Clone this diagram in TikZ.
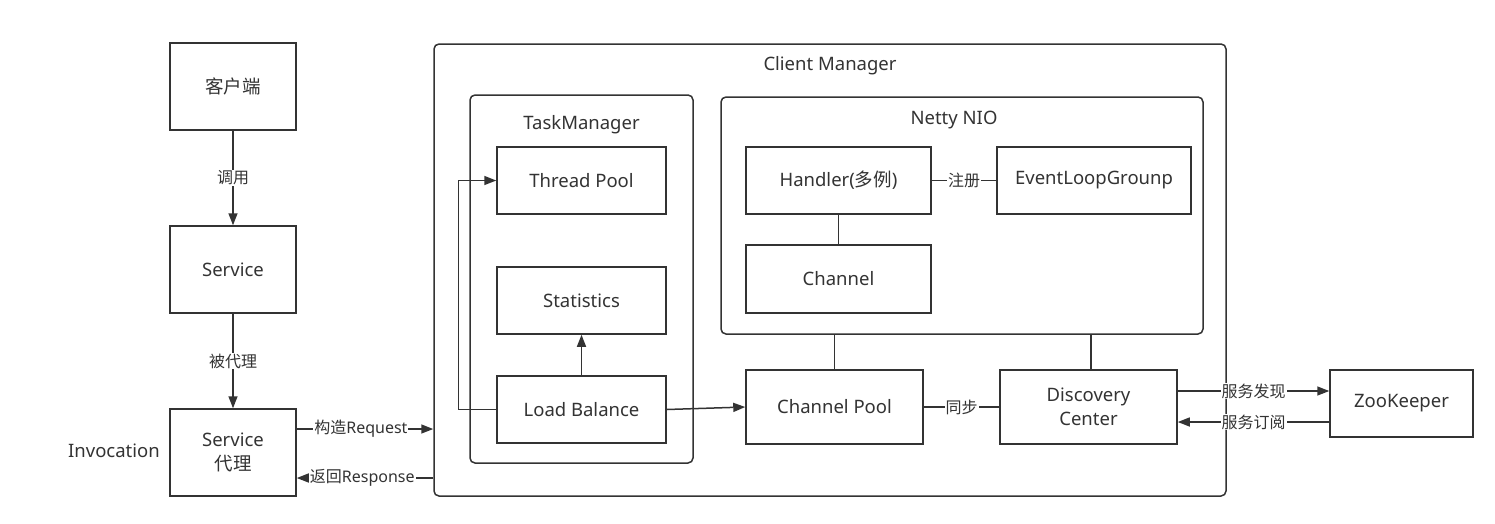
\documentclass[tikz,border=0pt]{standalone}
\usepackage{fontspec}
\setmainfont{Noto Sans}
\newfontfamily\cjk{Noto Sans CJK SC}
\usetikzlibrary{arrows.meta,calc}
\definecolor{ink}{HTML}{333333}
\tikzset{
  box/.style={draw=ink,line width=1.5pt,fill=white,inner sep=0pt,align=center,text=ink,font=\fontsize{18.5}{23.5}\selectfont},
  cont/.style={draw=ink,line width=1.5pt,rounded corners=5pt,inner sep=0pt},
  ttl/.style={text=ink,font=\fontsize{18.5}{21}\selectfont,inner sep=0pt},
  lab/.style={fill=white,text=ink,inner sep=1pt,font=\fontsize{16}{18}\selectfont},
  conn/.style={draw=ink,line width=1.5pt},
  arr/.style={conn,-{Triangle[length=12pt,width=9pt]}}
}
\begin{document}
\begin{tikzpicture}[x=1pt,y=-1pt]
\useasboundingbox (0,0) rectangle (1495,523);
% left column
\node[box,minimum width=126pt,minimum height=87pt] (kehu) at (233,86.5) {\cjk 客户端};
\node[box,minimum width=126pt,minimum height=87pt] (service) at (233,269.5) {Service};
\node[box,minimum width=126pt,minimum height=87pt] (proxy) at (233,452.5) {Service\\{\cjk 代理}};
\node[ttl,font=\fontsize{18.5}{21}\selectfont] (invoc) at (114,451) {Invocation};
% containers
\node[cont,minimum width=792pt,minimum height=452pt] (cm) at (830,270) {};
\node[ttl] (cmt) at (830,66) {Client Manager};
\node[cont,minimum width=223pt,minimum height=368pt] (tm) at (581.5,279) {};
\node[ttl] (tmt) at (581.5,125) {TaskManager};
\node[cont,minimum width=482pt,minimum height=237pt] (netty) at (962,215.5) {};
\node[ttl] (nettyt) at (954,120) {Netty NIO};
% inner boxes
\node[box,minimum width=169pt,minimum height=67pt] (tp) at (581.5,180.5) {Thread Pool};
\node[box,minimum width=169pt,minimum height=67pt] (stat) at (581.5,300.5) {Statistics};
\node[box,minimum width=169pt,minimum height=67pt] (lb) at (581.5,409.5) {Load Balance};
\node[box,minimum width=185pt,minimum height=67pt] (handler) at (838.5,180.5) {Handler({\cjk 多例})};
\node[box,minimum width=194pt,minimum height=67pt] (elg) at (1094,180.5) {EventLoopGrounp};
\node[box,minimum width=185pt,minimum height=68pt] (channel) at (838.5,279) {Channel};
\node[box,minimum width=177pt,minimum height=74pt] (cpool) at (834.5,407) {Channel Pool};
\node[box,minimum width=177pt,minimum height=74pt] (disc) at (1088.5,407) {Discovery\\Center};
\node[box,minimum width=143pt,minimum height=67pt] (zk) at (1401.5,403.5) {ZooKeeper};
% helper coordinates
\coordinate (yreq) at (0,429);
\coordinate (yresp) at (0,478);
\coordinate (yfind) at (0,391);
\coordinate (ysub) at (0,422);
% connectors
\draw[arr] (kehu) -- node[lab]{\cjk 调用} (service);
\draw[arr] (service) -- node[lab]{\cjk 被代理} (proxy);
\draw[arr] (proxy.east |- yreq) -- node[lab,pos=0.47]{{\cjk 构造}Request} (cm.west |- yreq);
\draw[arr] (cm.west |- yresp) -- node[lab,pos=0.52]{{\cjk 返回}Response} (proxy.east |- yresp);
\draw[arr] (lb.west) -- ++(-38,0) |- (tp.west);
\draw[arr] (lb) -- (stat);
\draw[arr] (lb.east) -- (cpool.west);
\draw[conn] (handler) -- (channel);
\draw[conn] (handler) -- node[lab]{\cjk 注册} (elg);
\draw[conn] (cpool.north) -- (cpool.north |- netty.south);
\draw[conn] ([xshift=2.5pt]disc.north) -- ([xshift=2.5pt]disc.north |- netty.south);
\draw[conn] (cpool) -- node[lab]{\cjk 同步} (disc);
\draw[arr] (disc.east |- yfind) -- node[lab]{\cjk 服务发现} (zk.west |- yfind);
\draw[arr] (zk.west |- ysub) -- node[lab]{\cjk 服务订阅} (disc.east |- ysub);
\end{tikzpicture}
\end{document}
